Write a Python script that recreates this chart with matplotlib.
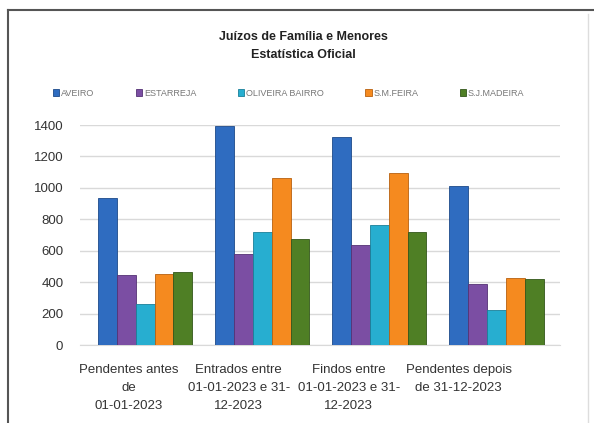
import numpy as np
import matplotlib
matplotlib.use("Agg")
import matplotlib.pyplot as plt
from matplotlib.lines import Line2D

plt.rcParams["font.family"] = ["Liberation Sans", "DejaVu Sans"]

categories = ["Pendentes antes\nde\n01-01-2023",
              "Entrados entre\n01-01-2023 e 31-\n12-2023",
              "Findos entre\n01-01-2023 e 31-\n12-2023",
              "Pendentes depois\nde 31-12-2023"]
series = ["AVEIRO", "ESTARREJA", "OLIVEIRA BAIRRO", "S.M.FEIRA", "S.J.MADEIRA"]
aveiro = [935, 1392, 1323, 1013]
estarreja = [448, 579, 635, 390]
oliveira = [258, 721, 763, 222]
feira = [453, 1065, 1096, 428]
madeira = [467, 675, 719, 421]
values = [aveiro, estarreja, oliveira, feira, madeira]
colors = ["#2f6cc0", "#7b4ea3", "#27aed0", "#f58a1f", "#4f7f25"]
edges = ["#1d4a8a", "#553275", "#1a7f99", "#b8600f", "#33561a"]
yticks = [0, 200, 400, 600, 800, 1000, 1200, 1400]

fig = plt.figure(figsize=(5.94, 4.23), dpi=100)
ax = fig.add_axes([80/594, (423-345)/423, 480/594, 220/423])

x = np.arange(len(categories))
w = 0.162
for i, (name, vals) in enumerate(zip(series, values)):
    ax.bar(x + (i - 2) * w, vals, w, color=colors[i], edgecolor=edges[i],
           linewidth=0.6, label=name, zorder=3)

ax.set_xlim(-0.556, 3.546)
ax.set_ylim(0, 1400)
ax.set_yticks(yticks)
# labels sit a little left of the bar groups, as in the 3D original
ax.set_xticks(x * 0.94 - 0.14)
ax.set_xticklabels(categories, fontsize=9.5, color="#333333", linespacing=1.65)
ax.tick_params(axis="y", labelsize=9.5, colors="#333333", length=0, pad=12)
ax.tick_params(axis="x", length=0, pad=14)
ax.grid(axis="y", color="#d9d9d9", linewidth=1, zorder=0)
for s in ["top", "right", "left"]:
    ax.spines[s].set_visible(False)
ax.spines["bottom"].set_color("#d9d9d9")

fig.text(0.51, 0.913, "Juízos de Família e Menores", ha="center", va="center",
         fontsize=9, fontweight="bold", color="#222222")
fig.text(0.51, 0.870, "Estatística Oficial", ha="center", va="center",
         fontsize=9, fontweight="bold", color="#222222")

leg = fig.legend(loc="center", bbox_to_anchor=(0.486, 0.78), ncol=5, frameon=False,
                 fontsize=6.5, handlelength=0.7, handleheight=0.7, handletextpad=0.2,
                 columnspacing=4.6)
for t in leg.get_texts():
    t.set_color("#777777")

fig.add_artist(Line2D([7.5/594, 1], [1 - 10/423, 1 - 10/423], color="#555555", lw=1.5))
fig.add_artist(Line2D([7.5/594, 7.5/594], [0, 1 - 10/423], color="#555555", lw=1.5))
fig.add_artist(Line2D([588/594, 588/594], [0, 1 - 14/423], color="#dddddd", lw=1))

fig.savefig("out.png", dpi=100)
